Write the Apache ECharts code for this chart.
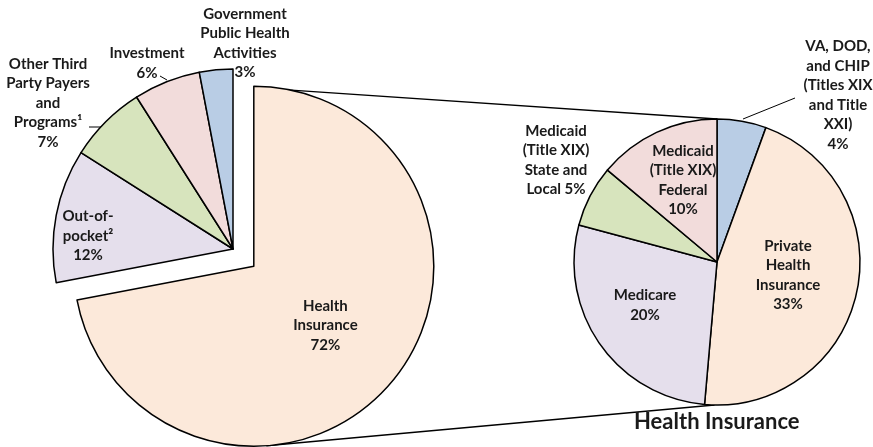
<!DOCTYPE html>
<html>
<head>
<meta charset="utf-8">
<script src="https://cdn.jsdelivr.net/npm/echarts@6/dist/echarts.min.js"></script>
<style>
  html, body { margin: 0; padding: 0; background: #fff; }
  #chart { width: 873px; height: 447px; }
</style>
</head>
<body>
<div id="chart"></div>
<script>
// all payers (left pie)
const leftNames = ['Health\nInsurance', 'Out-of-\npocket²', 'Other Third\nParty Payers\nand\nPrograms¹', 'Investment', 'Government\nPublic Health\nActivities'];
const leftValues = [72, 12, 7, 6, 3];

// health insurance breakdown (right pie)
const rightNames = ['VA, DOD,\nand CHIP\n(Titles XIX\nand Title\nXXI)', 'Private\nHealth\nInsurance', 'Medicare', 'Medicaid\n(Title XIX)\nState and\nLocal', 'Medicaid\n(Title XIX)\nFederal'];
const rightValues = [4, 33, 20, 5, 10];

const leftColors = ['#fce9da', '#e5dfec', '#d7e4bd', '#f2dcdb', '#b9cde5'];
const rightColors = ['#b9cde5', '#fce9da', '#e5dfec', '#d7e4bd', '#f2dcdb'];

// layout
const leftCenter = [233, 249], leftR = 180, explode = 27;
const rightCenter = [717, 262], rightR = 143;

// label centres
const leftLabelPos = [[330, 320], [88, 236], [48, 103], [147, 63], [245, 43]];
const rightLabelPos = [[838, 95], [788, 275], [645, 305], [556, 160], [683, 180]];
const leftLeader = { 2: [[89, 127], [102, 127]], 3: [[160, 76], [167, 80]] };
const rightLeader = { 0: [[795, 98], [743, 119]] };

const labelStyle = {
  fontFamily: 'Lato',
  fontWeight: 'bold',
  fontSize: 15,
  lineHeight: 19.5,
  color: '#1a1a1a',
  align: 'center'
};

function fmt(p) {
  const sep = p.name.endsWith('Local') ? ' ' : '\n';
  return p.name + sep + p.value + '%';
}

function makeData(names, values, colors, leaders, selectedIdx) {
  return names.map((n, i) => ({
    name: n,
    value: values[i],
    selected: i === selectedIdx,
    itemStyle: { color: colors[i] },
    label: { position: leaders[i] ? 'outside' : 'inside' },
    labelLine: { show: !!leaders[i] }
  }));
}

function layoutFn(pos, leaders) {
  return function (params) {
    const p = pos[params.dataIndex];
    const out = { x: p[0], y: p[1], align: 'center', verticalAlign: 'middle' };
    if (leaders[params.dataIndex]) out.labelLinePoints = leaders[params.dataIndex];
    return out;
  };
}

// connector lines between the exploded slice and the right pie
const midAng = (leftValues[0] / 2) / leftValues.reduce((a, b) => a + b, 0) * 2 * Math.PI;
const bigC = [leftCenter[0] + explode * Math.sin(midAng), leftCenter[1] - explode * Math.cos(midAng)];
const onBig = deg => [bigC[0] + leftR * Math.sin(deg * Math.PI / 180), bigC[1] - leftR * Math.cos(deg * Math.PI / 180)];
const onRight = deg => [rightCenter[0] + rightR * Math.sin(deg * Math.PI / 180), rightCenter[1] - rightR * Math.cos(deg * Math.PI / 180)];
const topA = onBig(12), topB = onRight(0);
const botA = onBig(176), botB = onRight(181);

const chart = echarts.init(document.getElementById('chart'));
chart.setOption({
  animation: false,
  title: {
    text: 'Health Insurance',
    left: 634,
    top: 411,
    padding: 0,
    textStyle: { fontFamily: 'Lato', fontWeight: 'bold', fontSize: 22, color: '#1a1a1a' }
  },
  graphic: [
    { type: 'line', shape: { x1: topA[0], y1: topA[1], x2: topB[0], y2: topB[1] }, style: { stroke: '#000', lineWidth: 1.3 }, z: 0 },
    { type: 'line', shape: { x1: botA[0], y1: botA[1], x2: botB[0], y2: botB[1] }, style: { stroke: '#000', lineWidth: 1.3 }, z: 0 }
  ],
  series: [
    {
      type: 'pie',
      center: leftCenter,
      radius: leftR,
      startAngle: 90,
      clockwise: true,
      selectedMode: 'single',
      selectedOffset: explode,
      avoidLabelOverlap: false,
      silent: true,
      itemStyle: { borderColor: '#000', borderWidth: 1.5 },
      label: Object.assign({ formatter: fmt }, labelStyle),
      labelLine: { lineStyle: { color: '#000', width: 1 } },
      labelLayout: layoutFn(leftLabelPos, leftLeader),
      data: makeData(leftNames, leftValues, leftColors, leftLeader, 0)
    },
    {
      type: 'pie',
      center: rightCenter,
      radius: rightR,
      startAngle: 90,
      clockwise: true,
      avoidLabelOverlap: false,
      silent: true,
      itemStyle: { borderColor: '#000', borderWidth: 1.5 },
      label: Object.assign({ formatter: fmt }, labelStyle),
      labelLine: { lineStyle: { color: '#000', width: 1 } },
      labelLayout: layoutFn(rightLabelPos, rightLeader),
      data: makeData(rightNames, rightValues, rightColors, rightLeader, -1)
    }
  ]
});
</script>
</body>
</html>
